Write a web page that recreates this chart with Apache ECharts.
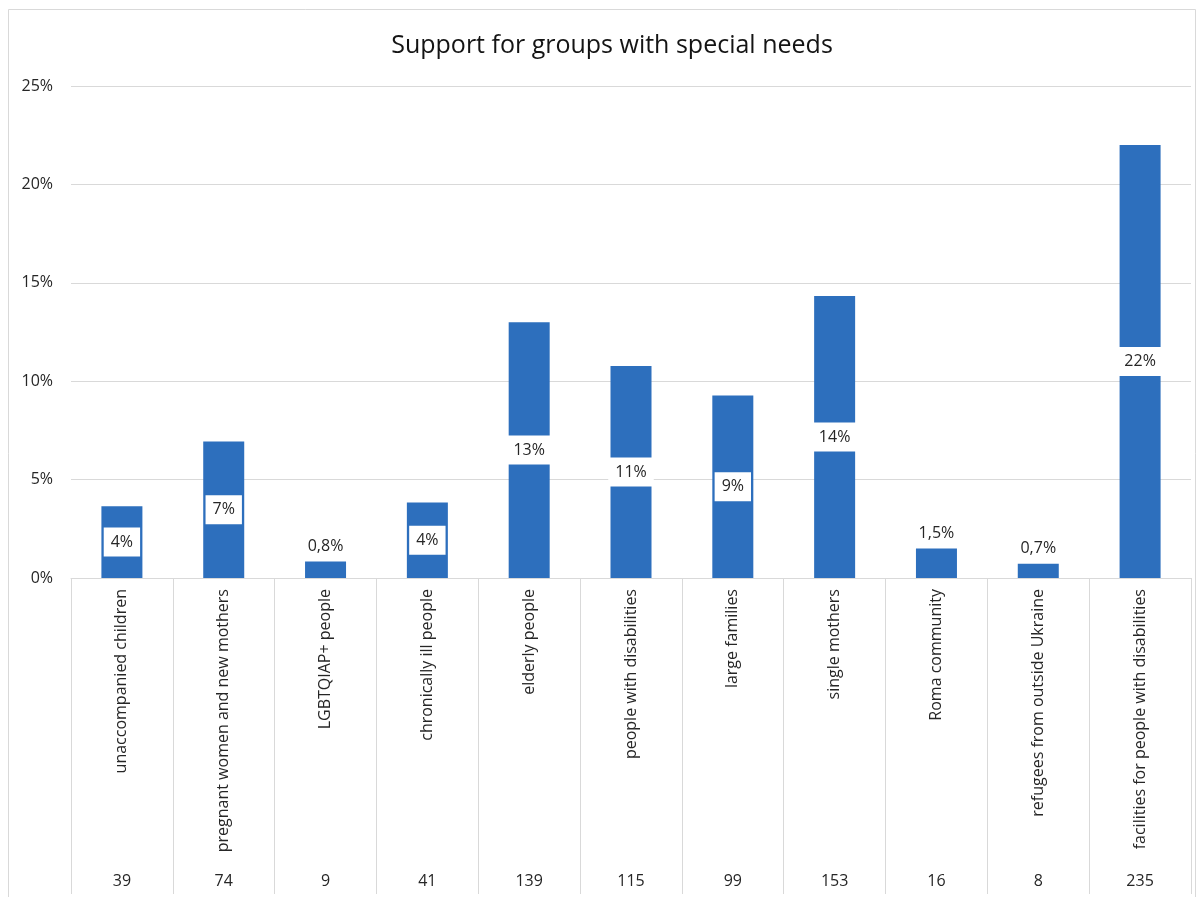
<!DOCTYPE html>
<html>
<head>
<meta charset="utf-8">
<title>Support for groups with special needs</title>
<script src="https://cdn.jsdelivr.net/npm/echarts@6/dist/echarts.min.js"></script>
<style>
  html, body { margin: 0; padding: 0; background: #ffffff; }
  #chart { width: 1201px; height: 897px; }
</style>
</head>
<body>
<div id="chart"></div>
<script>
// Groups receiving support
const categories = [
  'unaccompanied children',
  'pregnant women and new mothers',
  'LGBTQIAP+ people',
  'chronically ill people',
  'elderly people',
  'people with disabilities',
  'large families',
  'single mothers',
  'Roma community',
  'refugees from outside Ukraine',
  'facilities for people with disabilities'
];

// Share of answers, in percent
const shares = [3.65, 6.93, 0.84, 3.84, 13.0, 10.77, 9.27, 14.33, 1.5, 0.72, 22.0];

// Number of answers per group
const counts = [39, 74, 9, 41, 139, 115, 99, 153, 16, 8, 235];

// Value axis ticks
const yMin = 0, yMax = 25, yStep = 5;

const FONT = 'Open Sans';
const TEXT = '#262626';
const GRID = '#d9d9d9';
const BAR = '#2d6fbd';

function fmtShare(v) {
  return v < 2 ? v.toFixed(1).replace('.', ',') + '%' : Math.round(v) + '%';
}

const barData = shares.map(function (v) {
  const small = v < 2;
  return {
    value: v,
    label: {
      position: small ? 'top' : 'inside',
      distance: small ? 1 : 5
    }
  };
});

const chart = echarts.init(document.getElementById('chart'), null, { renderer: 'canvas' });

chart.setOption({
  animation: false,
  backgroundColor: '#ffffff',
  title: {
    text: 'Support for groups with special needs',
    left: 607,
    top: 28,
    textAlign: 'center',
    textStyle: { fontFamily: FONT, fontSize: 25, fontWeight: 'normal', color: '#141414' }
  },
  graphic: [{
    type: 'rect',
    shape: { x: 8.5, y: 9.5, width: 1187, height: 900 },
    style: { fill: 'none', stroke: GRID, lineWidth: 1 },
    silent: true,
    z: -1
  }],
  grid: { left: 71, right: 10, top: 86, bottom: 319, containLabel: false },
  xAxis: [{
    type: 'category',
    data: categories,
    gridIndex: 0,
    axisLine: { show: true, lineStyle: { color: GRID, width: 1 } },
    axisTick: { show: true, interval: 0, length: 316, alignWithLabel: false, lineStyle: { color: GRID, width: 1 } },
    axisLabel: {
      interval: 0,
      rotate: 90,
      margin: 11,
      fontFamily: FONT,
      fontSize: 16,
      color: TEXT
    }
  }, {
    type: 'category',
    data: counts.map(String),
    gridIndex: 0,
    position: 'bottom',
    axisLine: { show: false },
    axisTick: { show: false },
    axisLabel: {
      interval: 0,
      margin: 295,
      fontFamily: FONT,
      fontSize: 16,
      color: TEXT
    }
  }],
  yAxis: {
    type: 'value',
    min: yMin,
    max: yMax,
    interval: yStep,
    axisLine: { show: false },
    axisTick: { show: false },
    splitLine: { show: true, lineStyle: { color: GRID, width: 1 } },
    axisLabel: {
      formatter: '{value}%',
      margin: 18,
      fontFamily: FONT,
      fontSize: 16,
      color: TEXT
    }
  },
  series: [{
    type: 'bar',
    xAxisIndex: 0,
    data: barData,
    barWidth: 41,
    itemStyle: { color: BAR },
    label: {
      show: true,
      formatter: function (p) { return fmtShare(p.value); },
      fontFamily: FONT,
      fontSize: 16,
      lineHeight: 17,
      color: TEXT,
      backgroundColor: '#ffffff',
      padding: [6, 7]
    }
  }]
});
</script>
</body>
</html>
